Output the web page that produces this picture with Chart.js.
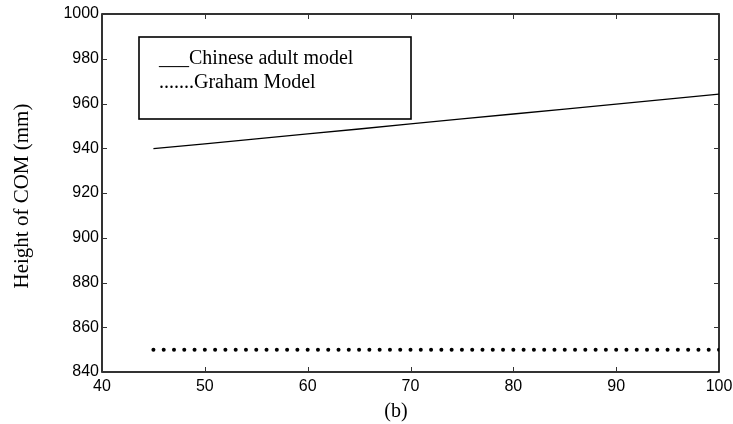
<!DOCTYPE html>
<html>
<head>
<meta charset="utf-8">
<script src="https://cdn.jsdelivr.net/npm/chart.js@4/dist/chart.umd.min.js"></script>
<style>
  html, body { margin: 0; padding: 0; background: #ffffff; }
  #wrap { width: 733px; height: 424px; }
</style>
</head>
<body>
<div id="wrap"><canvas id="comChart" width="733" height="424"></canvas></div>
<script>
// speed values (x axis) and centre-of-mass heights
const chineseX = [45, 50, 55, 60, 65, 70, 75, 80, 85, 90, 95, 100];
const chineseY = [939.8, 942.0, 944.2, 946.4, 948.6, 950.9, 953.1, 955.3, 957.5, 959.7, 962.0, 964.2];

const grahamX = [45, 46, 47, 48, 49, 50, 51, 52, 53, 54, 55, 56, 57, 58, 59, 60, 61, 62, 63, 64,
  65, 66, 67, 68, 69, 70, 71, 72, 73, 74, 75, 76, 77, 78, 79, 80, 81, 82, 83, 84,
  85, 86, 87, 88, 89, 90, 91, 92, 93, 94, 95, 96, 97, 98, 99, 100];
const grahamY = [850, 850, 850, 850, 850, 850, 850, 850, 850, 850, 850, 850, 850, 850, 850, 850, 850, 850, 850, 850,
  850, 850, 850, 850, 850, 850, 850, 850, 850, 850, 850, 850, 850, 850, 850, 850, 850, 850, 850, 850,
  850, 850, 850, 850, 850, 850, 850, 850, 850, 850, 850, 850, 850, 850, 850, 850];

const xTicks = [40, 50, 60, 70, 80, 90, 100];
const yTicks = [840, 860, 880, 900, 920, 940, 960, 980, 1000];

const legendLines = ["___Chinese adult model", ".......Graham Model"];
const yTitle = "Height of COM (mm)";
const xTitle = "(b)";

const serif = "'Liberation Serif', 'Times New Roman', serif";
const sans = "'Liberation Sans', Arial, sans-serif";

// matlab style frame: box on all four sides, ticks pointing inwards
const framePlugin = {
  id: "frame",
  afterDraw(chart) {
    const { ctx, chartArea: a, scales } = chart;
    ctx.save();
    ctx.strokeStyle = "#000000";
    ctx.lineWidth = 1.6;
    ctx.strokeRect(a.left, a.top, a.right - a.left, a.bottom - a.top);

    ctx.lineWidth = 1;
    ctx.strokeStyle = "#333333";
    const tick = 5;
    xTicks.forEach(v => {
      const px = Math.round(scales.x.getPixelForValue(v)) + 0.5;
      ctx.beginPath();
      ctx.moveTo(px, a.bottom);
      ctx.lineTo(px, a.bottom - tick);
      ctx.moveTo(px, a.top);
      ctx.lineTo(px, a.top + tick);
      ctx.stroke();
    });
    yTicks.forEach(v => {
      const py = Math.round(scales.y.getPixelForValue(v)) + 0.5;
      ctx.beginPath();
      ctx.moveTo(a.left, py);
      ctx.lineTo(a.left + tick, py);
      ctx.moveTo(a.right, py);
      ctx.lineTo(a.right - tick, py);
      ctx.stroke();
    });

    // legend box inside the plot
    ctx.lineWidth = 1.6;
    ctx.strokeStyle = "#000000";
    ctx.strokeRect(139, 37, 272, 82);
    ctx.fillStyle = "#000000";
    ctx.font = "20px " + serif;
    ctx.textBaseline = "alphabetic";
    ctx.textAlign = "left";
    ctx.fillText(legendLines[0], 159, 64);
    ctx.fillText(legendLines[1], 159, 88);

    // axis titles
    ctx.font = "20px " + serif;
    ctx.textAlign = "center";
    ctx.textBaseline = "middle";
    ctx.fillText(xTitle, 396, 412);
    ctx.font = "21px " + serif;
    ctx.translate(22, 196);
    ctx.rotate(-Math.PI / 2);
    ctx.fillText(yTitle, 0, 0);
    ctx.restore();
  }
};

new Chart(document.getElementById("comChart"), {
  type: "scatter",
  data: {
    datasets: [{
      label: "Chinese adult model",
      data: chineseX.map((x, i) => ({ x: x, y: chineseY[i] })),
      showLine: true,
      borderColor: "#000000",
      borderWidth: 1.3,
      pointRadius: 0,
      tension: 0
    }, {
      label: "Graham Model",
      data: grahamX.map((x, i) => ({ x: x, y: grahamY[i] })),
      showLine: false,
      pointRadius: 2,
      pointBackgroundColor: "#000000",
      pointBorderWidth: 0
    }]
  },
  options: {
    responsive: false,
    animation: false,
    layout: {
      padding: { left: 0, right: 14, top: 14, bottom: 0 }
    },
    scales: {
      x: {
        type: "linear",
        min: 40,
        max: 100,
        afterBuildTicks: scale => { scale.ticks = xTicks.map(v => ({ value: v })); },
        afterFit: scale => {
          scale.height = 52;
          scale.paddingLeft = 0;
          scale.paddingRight = 0;
        },
        grid: { display: false, drawTicks: false },
        border: { display: false },
        ticks: {
          color: "#000000",
          padding: 5,
          maxRotation: 0,
          font: { family: sans, size: 16 },
          callback: value => String(value)
        }
      },
      y: {
        type: "linear",
        min: 840,
        max: 1000,
        afterBuildTicks: scale => { scale.ticks = yTicks.map(v => ({ value: v })); },
        afterFit: scale => {
          scale.width = 102;
          scale.paddingTop = 0;
          scale.paddingBottom = 0;
        },
        grid: { display: false, drawTicks: false },
        border: { display: false },
        ticks: {
          color: "#000000",
          padding: 3,
          font: { family: sans, size: 16 },
          callback: value => String(value)
        }
      }
    },
    plugins: {
      legend: { display: false },
      tooltip: { enabled: false }
    }
  },
  plugins: [framePlugin]
});
</script>
</body>
</html>
